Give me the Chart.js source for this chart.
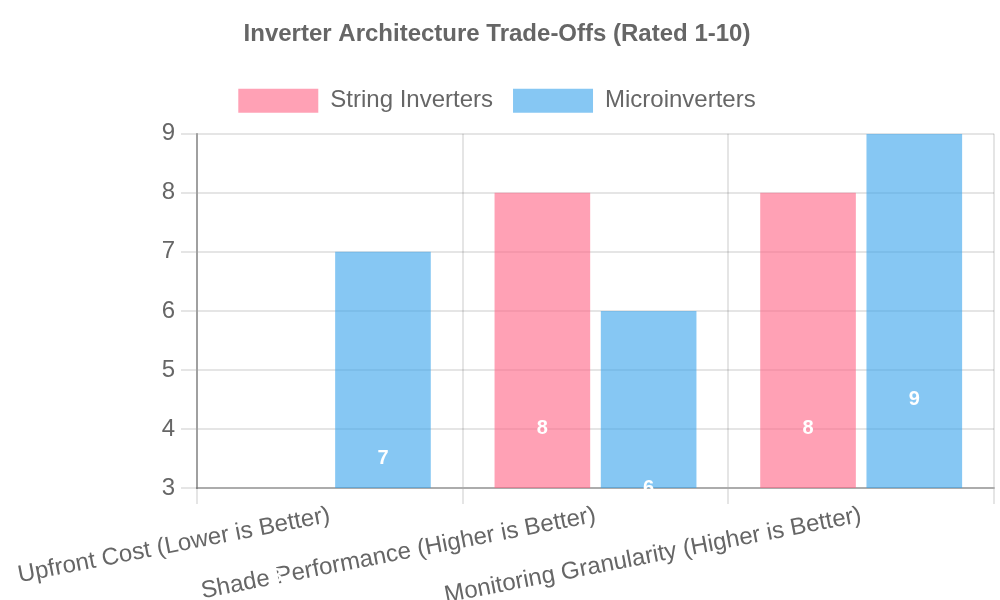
<!DOCTYPE html>
<html>
<head>
<meta charset="utf-8">
<script src="https://cdn.jsdelivr.net/npm/chart.js@4/dist/chart.umd.min.js"></script>
<style>
html,body{margin:0;padding:0;background:#fff;}
#wrap{width:1000px;height:600px;position:relative;}
</style>
</head>
<body>
<div id="wrap"><canvas id="c"></canvas></div>
<script>
const categories = ["Upfront Cost (Lower is Better)", "Shade Performance (Higher is Better)", "Monitoring Granularity (Higher is Better)"];
const stringInverters = [3, 8, 8];
const microinverters = [7, 6, 9];
const yTicks = [3, 4, 5, 6, 7, 8, 9];

Chart.defaults.font.family = "'Liberation Sans', Arial, Helvetica, sans-serif";
Chart.defaults.color = '#666';

const barLabels = {
  id: 'barLabels',
  afterDatasetsDraw(chart) {
    const ctx = chart.ctx;
    ctx.save();
    ctx.fillStyle = '#fff';
    ctx.font = "bold 20px 'Liberation Sans', Arial, sans-serif";
    ctx.textAlign = 'center';
    ctx.textBaseline = 'middle';
    chart.data.datasets.forEach((ds, di) => {
      const meta = chart.getDatasetMeta(di);
      meta.data.forEach((el, i) => {
        const cy = (el.y + el.base) / 2;
        ctx.fillText(String(ds.data[i]), el.x, cy);
      });
    });
    ctx.restore();
  }
};

const legendGap = {
  id: 'legendGap',
  beforeInit(chart) {
    const orig = chart.legend.fit;
    chart.legend.fit = function () { orig.call(this); this.height += 11; };
  }
};

new Chart(document.getElementById('c'), {
  type: 'bar',
  data: {
    labels: categories,
    datasets: [
      { label: 'String Inverters', data: stringInverters, backgroundColor: 'rgba(255,99,132,0.6)', borderWidth: 0, clip: 0 },
      { label: 'Microinverters', data: microinverters, backgroundColor: 'rgba(54,162,235,0.6)', borderWidth: 0, clip: 0 }
    ]
  },
  options: {
    responsive: true,
    maintainAspectRatio: false,
    animation: false,
    layout: { padding: { top: 0, right: 6, left: 0, bottom: 0 } },
    plugins: {
      title: { display: true, text: 'Inverter Architecture Trade-Offs (Rated 1-10)', color: '#666', font: { size: 24, weight: 'bold' }, padding: 20 },
      legend: { labels: { font: { size: 24 }, boxWidth: 80, boxHeight: 24, padding: 20, color: '#666' } },
      tooltip: { enabled: false }
    },
    scales: {
      x: {
        afterFit(scale) { scale.height = 112; scale.paddingLeft = 197; },
        grid: { lineWidth: 2, tickLength: 16, color: 'rgba(0,0,0,0.1)' },
        border: { width: 2, color: 'rgba(0,0,0,0.25)' },
        ticks: { font: { size: 24 }, padding: -3, color: '#666', minRotation: 11, maxRotation: 11 }
      },
      y: {
        min: 3, max: 9,
        afterBuildTicks(scale) { scale.ticks = yTicks.map(v => ({ value: v })); },
        afterFit(scale) { scale.width = 48; },
        grid: { lineWidth: 2, tickLength: 16, color: 'rgba(0,0,0,0.1)' },
        border: { width: 2, color: 'rgba(0,0,0,0.3)' },
        ticks: { font: { size: 24 }, padding: 6, color: '#666' }
      }
    }
  },
  plugins: [barLabels, legendGap]
});
</script>
</body>
</html>
